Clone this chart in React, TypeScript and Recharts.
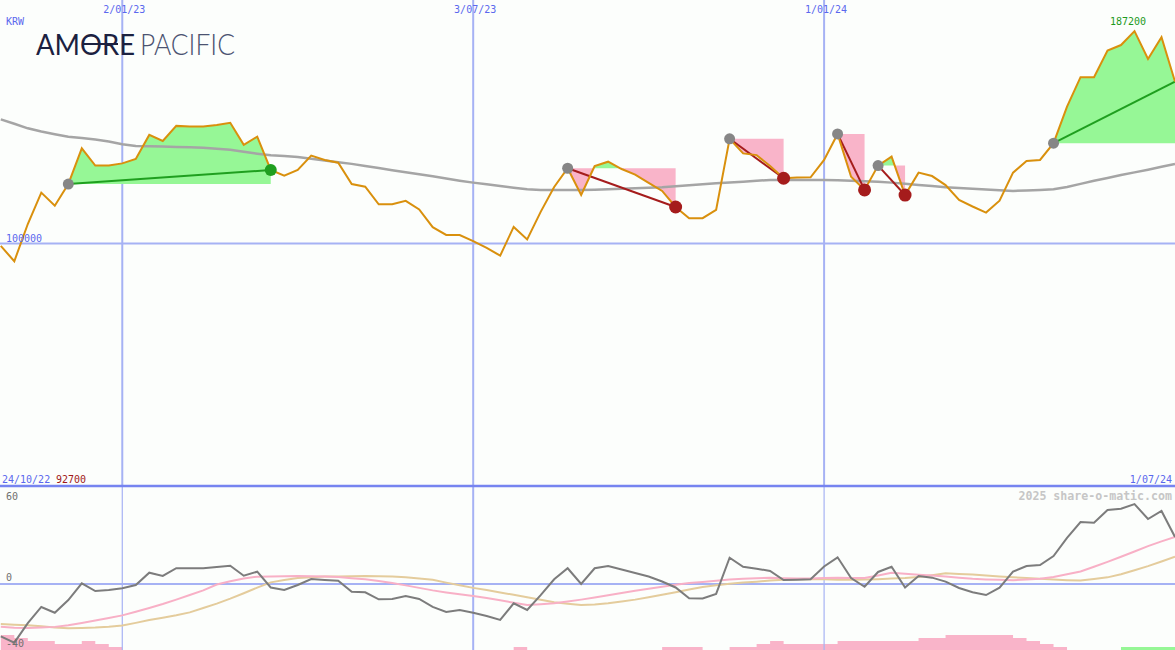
import { ComposedChart, Line, Area, XAxis, YAxis, ReferenceLine } from "recharts";

const W = 1175;
const TOP_H = 487;
const BOTTOM_H = 163;
const X_DOMAIN: [number, number] = [0.94, 88];
const PRICE_DOMAIN: [number, number] = [0, 200000];
const OSC_DOMAIN: [number, number] = [-47.72, 70.14];

// weekly closes in KRW, week 1 = 31/10/22
const price = [
  99000, 92700, 108000, 120900, 115500, 124400, 139100, 132000, 132000, 132900,
  134700, 144600, 142100, 148300, 148000, 148100, 148700, 149600, 140500, 143900,
  130200, 127900, 130200, 136100, 134300, 133200, 124400, 123300, 116100, 116100,
  117500, 114000, 106700, 103500, 103500, 101000, 98200, 95000, 106800, 101700,
  113000, 123200, 130900, 119900, 131800, 133600, 130600, 128300, 124900, 121600,
  115000, 110400, 110400, 113800, 143000, 137000, 136300, 131800, 126800, 127100,
  127200, 134300, 145000, 127400, 122000, 132000, 135700, 119900, 129100, 127700,
  124000, 117900, 115200, 112700, 117600, 129100, 133900, 134300, 141200, 156200,
  168300, 168300, 179200, 181500, 187200, 175800, 184700, 166500,
];

// long moving average
const ma = [
  151000, 149200, 147300, 146000, 144900, 143800, 143300, 142700, 141900, 140800,
  140000, 139900, 139800, 139600, 139500, 139300, 138900, 138500, 137700, 136900,
  136200, 135900, 135500, 134800, 134100, 133400, 132700, 131800, 131000, 130100,
  129300, 128400, 127600, 126700, 125800, 125000, 124300, 123600, 122900, 122300,
  122000, 122000, 122000, 122000, 122100, 122300, 122500, 122700, 122900, 123100,
  123500, 123900, 124300, 124700, 125100, 125400, 125800, 126100, 126100, 126100,
  126100, 126100, 126000, 125800, 125600, 125400, 125000, 124500, 124000, 123600,
  123100, 122800, 122500, 122200, 121900, 121600, 121800, 122000, 122300, 123200,
  124500, 125800, 126900, 128100, 129200, 130300, 131500, 132700,
];

// oscillator panel
const osc = [
  -37.9, -42.4, -28.3, -16.6, -20.8, -11.6, 0.5, -5.1, -4.3, -3.1,
  -0.7, 8.2, 5.8, 11.4, 11.4, 11.4, 12.3, 13.2, 6.0, 8.9,
  -2.5, -4.3, -0.7, 3.6, 2.9, 2.4, -5.6, -6.0, -11.1, -10.8,
  -8.7, -10.8, -16.6, -20.2, -18.8, -20.8, -23.1, -26.0, -14.0, -18.8,
  -8.0, 3.4, 11.4, 0, 11.4, 13.0, 10.5, 8.0, 5.4, 1.8,
  -2.5, -10.3, -10.5, -7.2, 19.0, 12.5, 11.1, 9.4, 2.9, 3.1,
  3.4, 12.7, 19.3, 4.3, -2.0, 8.7, 12.5, -2.5, 5.8, 4.6,
  1.7, -2.9, -6.0, -8.0, -2.7, 8.9, 13.0, 13.7, 20.2, 33.3,
  44.8, 44.3, 53.5, 54.4, 57.8, 47.0, 52.8, 34.0,
];

const oscFast = [
  -30.9, -31.7, -31.8, -31.5, -31.0, -29.9, -28.2, -26.4, -24.6, -22.7,
  -20.0, -17.3, -14.5, -11.3, -8.0, -4.6, -0.4, 2.0, 4.0, 5.3,
  5.4, 5.6, 5.8, 5.6, 5.4, 5.0, 4.2, 3.5, 2.1, 0.7,
  -1.0, -2.8, -4.6, -6.1, -7.4, -8.6, -10.1, -11.8, -13.5, -15.2,
  -14.6, -14.0, -12.7, -11.3, -9.8, -8.2, -6.5, -4.9, -3.4, -2.0,
  -0.6, 0.7, 1.4, 2.3, 3.2, 3.8, 4.2, 4.5, 4.2, 3.9,
  4.0, 4.3, 4.6, 4.3, 4.3, 6.2, 8.1, 7.4, 6.7, 6.1,
  5.4, 4.6, 3.8, 3.3, 3.0, 2.7, 3.3, 3.8, 5.1, 7.1,
  9.1, 12.5, 16.0, 19.7, 23.5, 27.4, 30.8, 34.0,
];

const oscSlow = [
  -28.9, -29.4, -29.9, -30.6, -31.4, -32.0, -31.8, -31.5, -30.9, -30.0,
  -28.1, -26.1, -24.4, -22.6, -20.5, -17.4, -14.2, -10.6, -6.7, -2.6,
  1.2, 2.9, 4.3, 4.9, 5.4, 5.5, 5.6, 5.8, 5.6, 5.4,
  4.8, 3.9, 3.0, 1.0, -0.9, -2.8, -4.4, -6.1, -7.8, -9.6,
  -11.4, -13.2, -14.3, -15.2, -14.8, -13.9, -12.7, -11.3, -9.5, -7.8,
  -5.9, -3.9, -2.2, -0.9, 0.2, 1.0, 1.7, 2.5, 3.0, 3.5,
  3.6, 3.4, 3.1, 3.0, 3.3, 3.5, 3.9, 4.3, 5.1, 6.4,
  7.7, 7.2, 6.8, 6.1, 5.5, 4.8, 4.3, 3.8, 3.3, 2.8,
  2.5, 3.6, 4.8, 7.1, 9.9, 12.9, 16.3, 19.7,
];

// step histogram along the bottom edge
const histNeg = [
  5, 4, 3, 3, 2, 2, 3, 2, 1, 0,
  0, 0, 0, 0, 0, 0, 0, 0, 0, 0,
  0, 0, 0, 0, 0, 0, 0, 0, 0, 0,
  0, 0, 0, 0, 0, 0, 0, 0, 1, 0,
  0, 0, 0, 0, 0, 0, 0, 0, 0, 1,
  1, 1, 0, 0, 1, 1, 2, 3, 2, 2,
  2, 2, 3, 3, 3, 3, 3, 3, 4, 4,
  5, 5, 5, 5, 5, 4, 3, 2, 1, 0,
  0, 0, 0, 0, 0, 0, 0, 0,
];
const histPos = [
  0, 0, 0, 0, 0, 0, 0, 0, 0, 0,
  0, 0, 0, 0, 0, 0, 0, 0, 0, 0,
  0, 0, 0, 0, 0, 0, 0, 0, 0, 0,
  0, 0, 0, 0, 0, 0, 0, 0, 0, 0,
  0, 0, 0, 0, 0, 0, 0, 0, 0, 0,
  0, 0, 0, 0, 0, 0, 0, 0, 0, 0,
  0, 0, 0, 0, 0, 0, 0, 0, 0, 0,
  0, 0, 0, 0, 0, 0, 0, 0, 0, 0,
  0, 0, 0, 1, 1, 1, 1, 1,
];

const dateTicks = [
  { week: 10, label: "2/01/23" },
  { week: 36, label: "3/07/23" },
  { week: 62, label: "1/01/24" },
];

const trades = [
  { entry: 6, exit: 21, open: false },
  { entry: 43, exit: 51, open: false },
  { entry: 55, exit: 59, open: false },
  { entry: 63, exit: 65, open: false },
  { entry: 66, exit: 68, open: false },
  { entry: 79, exit: 88, open: true },
];

const BLUE = "#5a68ee";
const GRID = "#a6b2f4";
const WIN = "#1f9f1f";
const LOSS = "#a51c1c";
const GREEN_FILL = "#96f796";
const PINK_FILL = "#f9b4c9";
const MONO = "'DejaVu Sans Mono', monospace";
const NO_MARGIN = { top: 0, right: 0, bottom: 0, left: 0 };

function buildPriceRows() {
  const rows: any[] = price.map((p, k) => ({ i: k + 1, price: p, ma: ma[k] }));
  const extra: any[] = [];
  trades.forEach((t, n) => {
    const e = price[t.entry - 1];
    const xp = price[t.exit - 1];
    for (let w = t.entry; w <= t.exit; w++) {
      const p = price[w - 1];
      rows[w - 1]["g" + n] = [e, Math.max(p, e)];
      rows[w - 1]["r" + n] = [Math.min(p, e), e];
      if (w < t.exit) {
        const q = price[w];
        if ((p - e) * (q - e) < 0) {
          // where the close crosses the entry level
          extra.push({ i: w + (e - p) / (q - p), price: e, ["g" + n]: [e, e], ["r" + n]: [e, e] });
        }
      }
    }
    rows[t.entry - 1]["l" + n] = e;
    rows[t.exit - 1]["l" + n] = xp;
    rows[t.entry - 1].entryDot = e;
    if (!t.open) rows[t.exit - 1][xp > e ? "winDot" : "lossDot"] = xp;
  });
  return [...rows, ...extra].sort((a, b) => a.i - b.i);
}

const priceRows = buildPriceRows();
const oscRows = osc.map((v, k) => ({
  i: k + 1,
  osc: v,
  fast: oscFast[k],
  slow: oscSlow[k],
  neg: histNeg[k],
  pos: histPos[k],
}));

function dotRenderer(r: number, fill: string) {
  return (p: any) => {
    if (p.value == null || p.cy == null || isNaN(p.cy)) return <g key={"n" + p.index} />;
    return <circle key={"d" + p.index} cx={p.cx} cy={p.cy} r={r} fill={fill} />;
  };
}

function DateLabel(props: any) {
  const vb = props.viewBox || {};
  return (
    <text x={vb.x + 2} y={12.5} textAnchor="middle" fontFamily={MONO} fontSize={10} fill={BLUE}>
      {props.text}
    </text>
  );
}

// grid sits in its own layer so the fills cover it
function PriceGrid() {
  return (
    <ComposedChart width={W} height={TOP_H} data={priceRows} margin={NO_MARGIN}>
      <XAxis type="number" dataKey="i" domain={X_DOMAIN} hide allowDataOverflow />
      <YAxis type="number" domain={PRICE_DOMAIN} hide allowDataOverflow />
      {dateTicks.map((d) => (
        <ReferenceLine key={d.label} x={d.week} stroke={GRID} strokeWidth={2} label={<DateLabel text={d.label} />} />
      ))}
      <ReferenceLine y={100000} stroke={GRID} strokeWidth={2} />
    </ComposedChart>
  );
}

function PriceChart() {
  return (
    <ComposedChart width={W} height={TOP_H} data={priceRows} margin={NO_MARGIN}>
      <XAxis type="number" dataKey="i" domain={X_DOMAIN} hide allowDataOverflow />
      <YAxis type="number" domain={PRICE_DOMAIN} hide allowDataOverflow />
      {trades.map((t, n) => (
        <Area key={"g" + n} dataKey={"g" + n} type="linear" fill={GREEN_FILL} fillOpacity={1} stroke="none" isAnimationActive={false} activeDot={false} />
      ))}
      {trades.map((t, n) => (
        <Area key={"r" + n} dataKey={"r" + n} type="linear" fill={PINK_FILL} fillOpacity={1} stroke="none" isAnimationActive={false} activeDot={false} />
      ))}
      <Line dataKey="ma" type="linear" stroke="#a5a5a5" strokeWidth={2.5} dot={false} connectNulls isAnimationActive={false} activeDot={false} />
      <Line dataKey="entryDot" stroke="none" dot={dotRenderer(5.5, "#868686")} isAnimationActive={false} activeDot={false} />
      {trades.map((t, n) => (
        <Line
          key={"l" + n}
          dataKey={"l" + n}
          type="linear"
          stroke={price[t.exit - 1] > price[t.entry - 1] ? WIN : LOSS}
          strokeWidth={2}
          dot={false}
          connectNulls
          isAnimationActive={false}
          activeDot={false}
        />
      ))}
      <Line dataKey="price" type="linear" stroke="#d9900d" strokeWidth={2} dot={false} isAnimationActive={false} activeDot={false} />
      <Line dataKey="winDot" stroke="none" dot={dotRenderer(6, WIN)} isAnimationActive={false} activeDot={false} />
      <Line dataKey="lossDot" stroke="none" dot={dotRenderer(6.5, LOSS)} isAnimationActive={false} activeDot={false} />
    </ComposedChart>
  );
}

function OscChart() {
  return (
    <ComposedChart width={W} height={BOTTOM_H} data={oscRows} margin={NO_MARGIN}>
      <XAxis type="number" dataKey="i" domain={X_DOMAIN} hide allowDataOverflow />
      <YAxis yAxisId="osc" type="number" domain={OSC_DOMAIN} hide allowDataOverflow />
      <YAxis yAxisId="hist" type="number" domain={[0, 54.33]} hide allowDataOverflow />
      {dateTicks.map((d) => (
        <ReferenceLine key={d.label} yAxisId="osc" x={d.week} stroke={GRID} strokeWidth={d.week === 36 ? 2 : 1.2} />
      ))}
      <ReferenceLine yAxisId="osc" y={0} stroke={GRID} strokeWidth={2} />
      <Area yAxisId="hist" dataKey="neg" type="stepAfter" fill={PINK_FILL} fillOpacity={1} stroke="none" isAnimationActive={false} activeDot={false} />
      <Area yAxisId="hist" dataKey="pos" type="stepAfter" fill={GREEN_FILL} fillOpacity={1} stroke="none" isAnimationActive={false} activeDot={false} />
      <Line yAxisId="osc" dataKey="slow" type="linear" stroke="#e4cc9c" strokeWidth={2} dot={false} isAnimationActive={false} activeDot={false} />
      <Line yAxisId="osc" dataKey="fast" type="linear" stroke="#f8b0c6" strokeWidth={2} dot={false} isAnimationActive={false} activeDot={false} />
      <Line yAxisId="osc" dataKey="osc" type="linear" stroke="#7c7c7c" strokeWidth={2} dot={false} isAnimationActive={false} activeDot={false} />
    </ComposedChart>
  );
}

export default function App() {
  return (
    <div style={{ position: "absolute", left: 0, top: 0, width: W, height: TOP_H + BOTTOM_H, background: "#fcfefc", overflow: "hidden" }}>
      <div style={{ position: "absolute", left: 0, top: 0 }}>
        <PriceGrid />
      </div>
      <div style={{ position: "absolute", left: 0, top: 0 }}>
        <PriceChart />
      </div>
      <div style={{ position: "absolute", left: 0, top: TOP_H }}>
        <OscChart />
      </div>
      <svg width={W} height={TOP_H + BOTTOM_H} style={{ position: "absolute", left: 0, top: 0, pointerEvents: "none" }}>
        <line x1={0} x2={W} y1={486} y2={486} stroke="#7684f0" strokeWidth={2.5} />
        <g fontFamily={MONO} fontSize={10}>
          <text x={6} y={25} fill={BLUE}>KRW</text>
          <text x={6} y={242} fill={BLUE}>100000</text>
          <text x={1110} y={25} fill="#1e9a1e">187200</text>
          <text x={2} y={483} fill={BLUE}>24/10/22</text>
          <text x={56} y={483} fill="#a01818">92700</text>
          <text x={1172} y={483} fill={BLUE} textAnchor="end">1/07/24</text>
          <text x={6} y={500} fill="#707070">60</text>
          <text x={6} y={581} fill="#707070">0</text>
          <text x={6} y={647} fill="#707070">-40</text>
        </g>
        <text x={1172} y={500} textAnchor="end" fontFamily={MONO} fontSize={11.6} fontWeight="bold" fill="#c6c6c6">
          2025 share-o-matic.com
        </text>
        <text x={36} y={55} fontFamily="Lato, sans-serif" fontSize={29} fill="#1b2140" textLength={99} lengthAdjust="spacingAndGlyphs">
          AMORE
        </text>
        <line x1={82} x2={118} y1={44} y2={44} stroke="#1b2140" strokeWidth={2} />
        <text x={140} y={55} fontFamily="Lato, sans-serif" fontWeight={300} fontSize={29} fill="#4b5371" textLength={95} lengthAdjust="spacingAndGlyphs">
          PACIFIC
        </text>
      </svg>
    </div>
  );
}
